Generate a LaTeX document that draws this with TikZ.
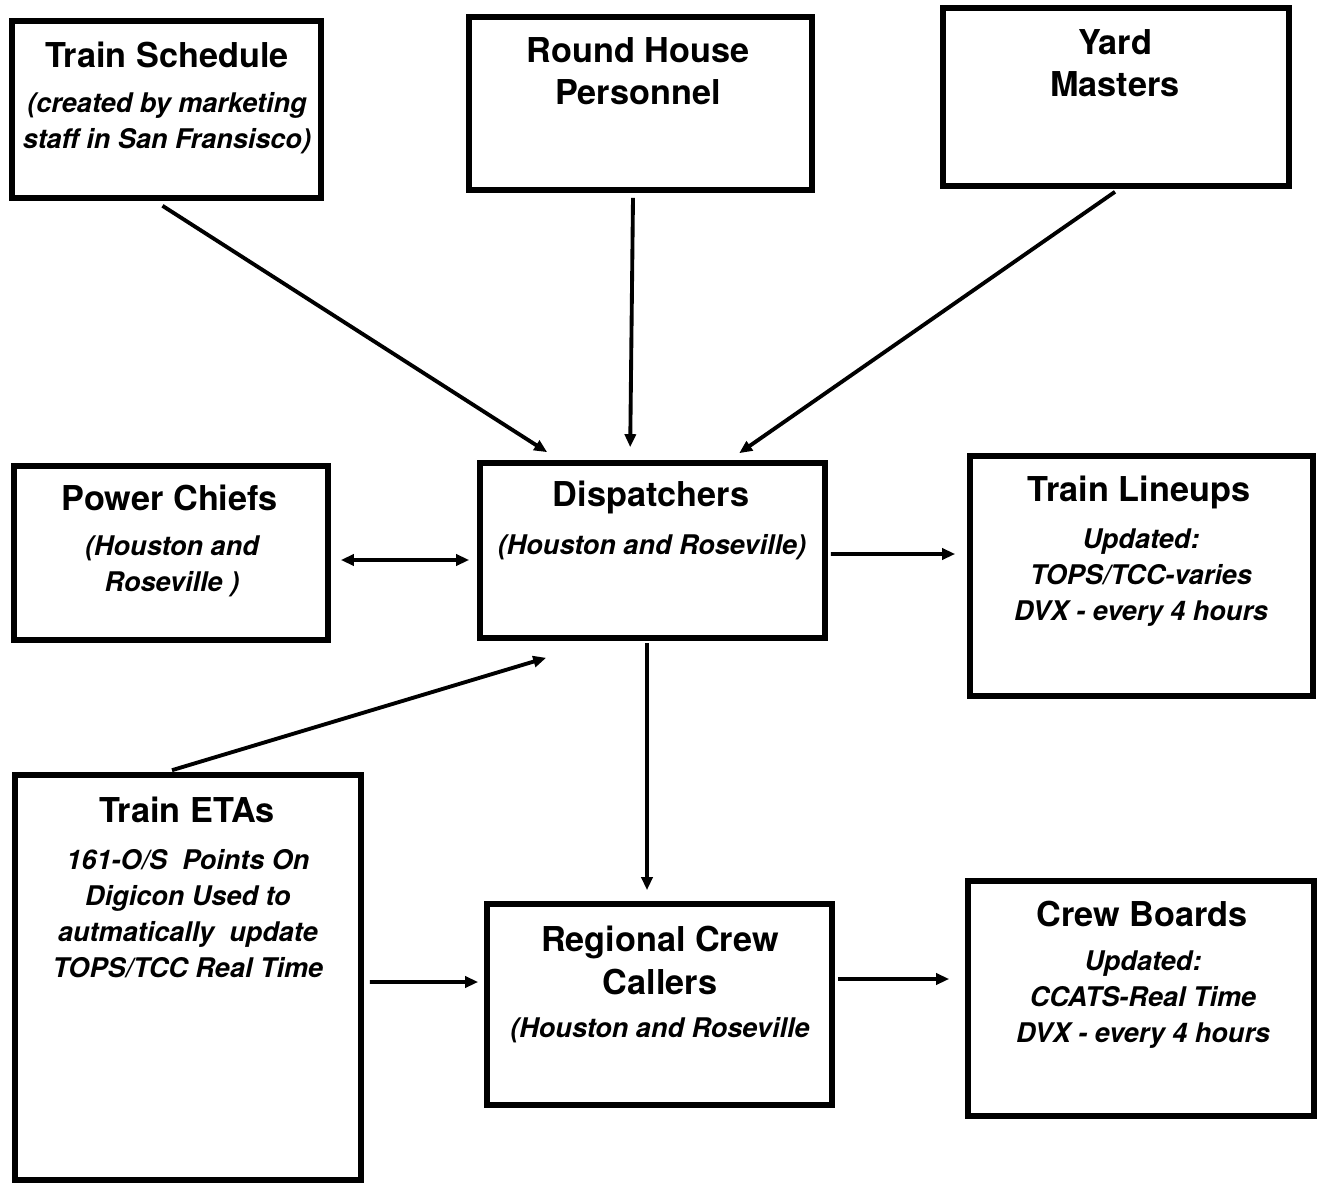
\documentclass[tikz,border=0pt]{standalone}
\usepackage{fontspec}
\setmainfont{TeX Gyre Heros}
\usetikzlibrary{arrows.meta}
\tikzset{
  box/.style n args={2}{draw, line width=3.2pt, inner sep=0pt, minimum width=#1*0.02cm, minimum height=#2*0.02cm},
  ttl/.style={align=center, inner sep=0pt, font=\bfseries\fontsize{19.5}{24}\selectfont},
  sub/.style={align=center, inner sep=0pt, font=\bfseries\itshape\fontsize{15.4}{20.5}\selectfont},
  conn/.style={line width=2.2pt, -{Triangle[length=0.26cm,width=0.22cm]}},
  conn2/.style={line width=2.2pt, {Triangle[length=0.26cm,width=0.22cm]}-{Triangle[length=0.26cm,width=0.22cm]}}
}
\begin{document}
\begin{tikzpicture}[x=0.02cm,y=-0.02cm]
\useasboundingbox (0,0) rectangle (1321,1185);
% boxes
\node[box={309}{177}] (ts) at (166.5,109.5) {};
\node[box={343}{173}] (rh) at (640.5,103.5) {};
\node[box={346}{178}] (ym) at (1116,97) {};
\node[box={314}{174}] (pc) at (171,553) {};
\node[box={345}{175}] (disp) at (652.5,550.5) {};
\node[box={343}{240}] (tl) at (1141.5,576) {};
\node[box={346}{405}] (etas) at (188,977.5) {};
\node[box={345}{201}] (rcc) at (659.5,1004.5) {};
\node[box={346}{235}] (cb) at (1141,998.5) {};
% texts
\node[ttl] (tsT) at (167,55) {Train Schedule};
\node[sub] (tsS) at (167,123) {(created by marketing\\staff in San Fransisco)};
\node[ttl] (rhT) at (638,71) {Round House\\Personnel};
\node[ttl] (ymT) at (1115,63) {Yard\\Masters};
\node[ttl] (pcT) at (170,498) {Power Chiefs};
\node[sub] (pcS) at (172,566) {(Houston and\\Roseville )};
\node[ttl] (dT) at (651,497) {Dispatchers};
\node[sub] (dS) at (652,547) {(Houston and Roseville)};
\node[ttl] (tlT) at (1139,492) {Train Lineups};
\node[sub] (tlS) at (1141,578) {Updated:\\TOPS/TCC-varies\\DVX - every 4 hours};
\node[ttl] (eT) at (187,810) {Train ETAs};
\node[sub] (eS) at (188,914) {161-O/S\ \ Points On\\Digicon Used to\\autmatically\ \ update\\TOPS/TCC Real Time};
\node[ttl] (rT) at (660,960.5) {Regional Crew\\Callers};
\node[sub] (rS) at (660,1030) {(Houston and Roseville};
\node[ttl] (cT) at (1142,914) {Crew Boards};
\node[sub] (cS) at (1143,1000) {Updated:\\CCATS-Real Time\\DVX - every 4 hours};
% connectors
\draw[conn] ([shift={(-4,5)}]ts.south) -- ([shift={(70,-8)}]disp.north west);
\draw[conn] ([shift={(-7.5,5)}]rh.south) -- ([shift={(153,-13)}]disp.north west);
\draw[conn] ([shift={(-1,3)}]ym.south) -- ([shift={(262,-7)}]disp.north west);
\draw[conn2] ([shift={(10,7)}]pc.east) -- ([shift={(-8,9.5)}]disp.west);
\draw[conn] ([shift={(3,3.5)}]disp.east) -- ([shift={(-12,-22)}]tl.west);
\draw[conn] ([shift={(-16,-2)}]etas.north) -- ([shift={(69,17)}]disp.south west);
\draw[conn] ([shift={(-5.5,2)}]disp.south) -- ([shift={(-12.5,-11)}]rcc.north);
\draw[conn] ([shift={(6,4.5)}]etas.east) -- ([shift={(-6,-22.5)}]rcc.west);
\draw[conn] ([shift={(3,-25.5)}]rcc.east) -- ([shift={(-16,-19.5)}]cb.west);
\end{tikzpicture}
\end{document}
